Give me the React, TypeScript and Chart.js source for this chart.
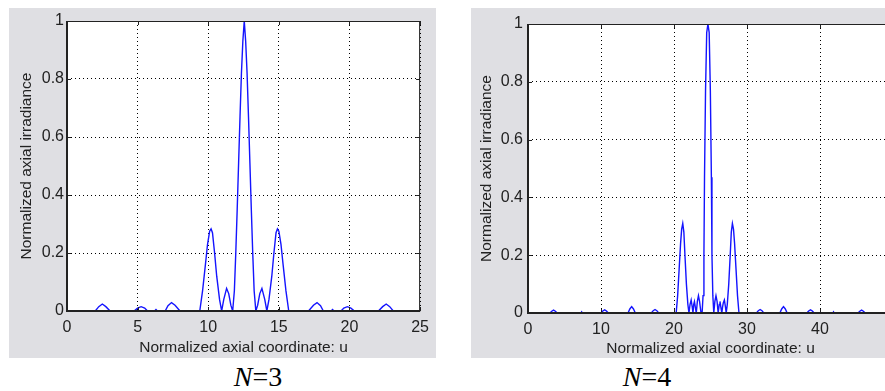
import React, { useEffect, useRef } from 'react';
import { Chart, registerables } from 'chart.js';

Chart.register(...registerables);

// ---------- data ----------
const uN3 = [
  0, 2.0, 2.25, 2.5, 2.75, 3.05, 4.75, 5.0, 5.25, 5.5, 5.7, 6.2, 6.3, 6.4, 6.95, 7.15, 7.4, 7.65, 8.0,
  9.4, 9.6, 9.8, 9.95, 10.1, 10.2, 10.3, 10.45, 10.6, 10.8, 10.95, 11.1, 11.3, 11.45, 11.6, 11.73,
  11.85, 11.95, 12.05, 12.15, 12.25, 12.35, 12.45, 12.55, 12.65, 12.75, 12.85, 12.95, 13.05, 13.15, 13.25, 13.37,
  13.5, 13.65, 13.8, 14.0, 14.15, 14.3, 14.5, 14.65, 14.8, 14.9, 15.0, 15.15, 15.3, 15.5, 15.7,
  17.1, 17.45, 17.7, 17.95, 18.15, 18.7, 18.8, 18.9, 19.4, 19.6, 19.85, 20.1, 20.35, 22.05, 22.35, 22.6, 22.85, 23.1, 25,
];
const irrN3 = [
  0, 0, 0.015, 0.024, 0.015, 0, 0, 0.01, 0.015, 0.01, 0, 0, 0.005, 0, 0, 0.018, 0.029, 0.02, 0,
  0, 0.07, 0.16, 0.23, 0.275, 0.283, 0.27, 0.2, 0.12, 0.04, 0, 0.04, 0.078, 0.06, 0.02, 0,
  0.07, 0.2, 0.35, 0.51, 0.67, 0.82, 0.93, 1.0, 0.93, 0.82, 0.67, 0.51, 0.35, 0.2, 0.07, 0,
  0.02, 0.06, 0.078, 0.04, 0, 0.04, 0.12, 0.2, 0.27, 0.283, 0.275, 0.23, 0.16, 0.07, 0,
  0, 0.02, 0.029, 0.018, 0, 0, 0.005, 0, 0, 0.01, 0.015, 0.01, 0, 0, 0.015, 0.024, 0.015, 0, 0,
];

const uN4 = [
  0, 3.0, 3.25, 3.5, 3.75, 4.0, 7.25, 7.35, 7.45, 10.0, 10.25, 10.5, 10.75, 11.0,
  13.7, 13.95, 14.2, 14.45, 14.7, 16.9, 17.15, 17.4, 17.65, 17.9,
  20.3, 20.5, 20.7, 20.9, 21.05, 21.2, 21.35, 21.5, 21.7, 21.9, 22.05,
  22.2, 22.35, 22.5, 22.6, 22.7, 22.8, 22.95, 23.05, 23.2, 23.35, 23.5, 23.7,
  23.85, 23.98, 24.1, 24.18, 24.32, 24.48, 24.65, 24.82, 24.98, 25.12, 25.2, 25.32, 25.45,
  25.6, 25.75, 25.9, 26.05, 26.2, 26.3, 26.45, 26.55, 26.65, 26.75, 26.9, 27.05, 27.15,
  27.3, 27.5, 27.7, 27.85, 28.0, 28.15, 28.3, 28.5, 28.7, 28.9,
  31.3, 31.55, 31.8, 32.05, 32.3, 34.5, 34.75, 35.0, 35.25, 35.5,
  38.2, 38.45, 38.7, 38.95, 39.2, 41.75, 41.85, 41.95, 45.2, 45.45, 45.7, 45.95, 46.2, 50,
];
const irrN4 = [
  0, 0, 0.006, 0.01, 0.006, 0, 0, 0.004, 0, 0, 0.007, 0.011, 0.007, 0,
  0, 0.014, 0.022, 0.014, 0, 0, 0.008, 0.012, 0.008, 0,
  0, 0.06, 0.15, 0.24, 0.29, 0.31, 0.28, 0.2, 0.1, 0.03, 0,
  0.03, 0.045, 0.02, 0, 0.03, 0.04, 0.015, 0, 0.04, 0.06, 0.04, 0,
  0, 0.06, 0.2, 0.47, 0.77, 0.97, 1.0, 0.97, 0.77, 0.47, 0.2, 0.06, 0,
  0.04, 0.06, 0.04, 0, 0.03, 0.04, 0.015, 0, 0.02, 0.035, 0.045, 0.02, 0,
  0.03, 0.1, 0.2, 0.28, 0.31, 0.29, 0.24, 0.15, 0.06, 0,
  0, 0.008, 0.012, 0.008, 0, 0, 0.014, 0.022, 0.014, 0,
  0, 0.007, 0.011, 0.007, 0, 0, 0.004, 0, 0, 0.006, 0.01, 0.006, 0, 0,
];

const xTicksN3 = [0, 5, 10, 15, 20, 25];
const xTickLabelsN3 = ['0', '5', '10', '15', '20', '25'];
const xTicksN4 = [0, 10, 20, 30, 40, 50];
// the "50" label lies outside the cropped picture
const xTickLabelsN4 = ['0', '10', '20', '30', '40', ''];
const yTicks = [0, 0.2, 0.4, 0.6, 0.8, 1];
const yTickLabels = ['0', '0.2', '0.4', '0.6', '0.8', '1'];
const xTitle = 'Normalized axial coordinate: u';
const yTitle = 'Normalized axial irradiance';
const captionN = ['3', '4'];

const SANS = '"Liberation Sans", Arial, sans-serif';
const PANEL_BG = '#dfdfe3';
const AXIS_COLOR = '#222';

const framePlugin = {
  id: 'matlabFrame',
  beforeDraw(chart: any) {
    const { ctx, chartArea } = chart;
    const { left, top, right, bottom } = chartArea;
    ctx.save();
    ctx.fillStyle = '#ffffff';
    ctx.fillRect(left, top, right - left, bottom - top);
    ctx.restore();
  },
  afterDatasetsDraw(chart: any) {
    const { ctx, chartArea, scales } = chart;
    const { left, top, right, bottom } = chartArea;
    ctx.save();
    ctx.strokeStyle = AXIS_COLOR;
    ctx.lineWidth = 1;
    ctx.beginPath();
    ctx.moveTo(left, top + 0.5);
    ctx.lineTo(right, top + 0.5);
    ctx.moveTo(right - 0.5, top);
    ctx.lineTo(right - 0.5, bottom);
    ctx.stroke();
    const tl = 4;
    ctx.beginPath();
    for (const v of scales.x.ticks.map((t: any) => t.value)) {
      const px = Math.round(scales.x.getPixelForValue(v)) + 0.5;
      ctx.moveTo(px, bottom);
      ctx.lineTo(px, bottom - tl);
      ctx.moveTo(px, top);
      ctx.lineTo(px, top + tl);
    }
    for (const v of scales.y.ticks.map((t: any) => t.value)) {
      const py = Math.round(scales.y.getPixelForValue(v)) + 0.5;
      ctx.moveTo(left, py);
      ctx.lineTo(left + tl, py);
      ctx.moveTo(right, py);
      ctx.lineTo(right - tl, py);
    }
    ctx.stroke();
    ctx.lineWidth = 2;
    ctx.beginPath();
    ctx.moveTo(left, top);
    ctx.lineTo(left, bottom);
    ctx.lineTo(right, bottom);
    ctx.stroke();
    ctx.restore();
  },
};

type PanelProps = {
  u: number[];
  irr: number[];
  xTicks: number[];
  xTickLabels: string[];
  left: number;
  width: number;
  yAxisWidth: number;
  xAxisHeight: number;
  padTop: number;
  padRight: number;
  yTitlePad: number;
  xTitlePad: number;
  yTickPad: number;
};

function Panel(p: PanelProps) {
  const ref = useRef<HTMLCanvasElement | null>(null);
  useEffect(() => {
    if (!ref.current) return;
    const data = p.u.map((x, i) => ({ x, y: p.irr[i] }));
    const chart = new Chart(ref.current, {
      type: 'scatter',
      data: {
        datasets: [
          {
            data,
            showLine: true,
            borderColor: '#1414ff',
            borderWidth: 1.4,
            pointRadius: 0,
            tension: 0,
          },
        ],
      },
      options: {
        animation: false,
        responsive: false,
        maintainAspectRatio: false,
        events: [],
        layout: { padding: { top: p.padTop, right: p.padRight, left: 0, bottom: 0 } },
        plugins: { legend: { display: false }, tooltip: { enabled: false } },
        scales: {
          x: {
            type: 'linear',
            min: p.xTicks[0],
            max: p.xTicks[p.xTicks.length - 1],
            afterBuildTicks: (s: any) => {
              s.ticks = p.xTicks.map((v) => ({ value: v }));
            },
            afterFit: (s: any) => {
              s.height = p.xAxisHeight;
            },
            ticks: {
              autoSkip: false,
              maxRotation: 0,
              padding: 7,
              color: AXIS_COLOR,
              font: { family: SANS, size: 16 },
              callback: (_v: any, i: number) => p.xTickLabels[i],
            },
            grid: { color: '#000', lineWidth: 1, drawTicks: false },
            border: { display: false, dash: [1, 3] },
            title: {
              display: true,
              text: xTitle,
              color: AXIS_COLOR,
              font: { family: SANS, size: 15.5 },
              padding: { top: 0, bottom: p.xTitlePad },
            },
          },
          y: {
            type: 'linear',
            min: 0,
            max: 1,
            afterBuildTicks: (s: any) => {
              s.ticks = yTicks.map((v) => ({ value: v }));
            },
            afterFit: (s: any) => {
              s.width = p.yAxisWidth;
            },
            ticks: {
              autoSkip: false,
              padding: p.yTickPad,
              color: AXIS_COLOR,
              font: { family: SANS, size: 16 },
              callback: (_v: any, i: number) => yTickLabels[i],
            },
            grid: { color: '#000', lineWidth: 1, drawTicks: false },
            border: { display: false, dash: [1, 3] },
            title: {
              display: true,
              text: yTitle,
              color: AXIS_COLOR,
              font: { family: SANS, size: 15.5 },
              padding: { top: p.yTitlePad, bottom: 0 },
            },
          },
        },
      },
      plugins: [framePlugin],
    } as any);
    return () => chart.destroy();
  }, []);
  return (
    <div
      style={{
        position: 'absolute',
        left: p.left,
        top: 8,
        width: p.width,
        height: 350,
        background: PANEL_BG,
      }}
    >
      <canvas ref={ref} width={p.width} height={350} style={{ display: 'block' }} />
    </div>
  );
}

function Caption({ n, center }: { n: string; center: number }) {
  return (
    <div
      style={{
        position: 'absolute',
        left: center - 60,
        width: 120,
        top: 363,
        textAlign: 'center',
        fontFamily: '"Liberation Serif", "Times New Roman", serif',
        fontSize: 28,
        lineHeight: '28px',
        color: '#000',
        whiteSpace: 'nowrap',
      }}
    >
      <span style={{ fontStyle: 'italic' }}>N</span>={n}
    </div>
  );
}

export default function App() {
  return (
    <div
      style={{
        position: 'absolute',
        left: 0,
        top: 0,
        width: 885,
        height: 391,
        overflow: 'hidden',
        background: '#fff',
      }}
    >
      <Panel
        u={uN3}
        irr={irrN3}
        xTicks={xTicksN3}
        xTickLabels={xTickLabelsN3}
        left={9}
        width={427}
        yAxisWidth={58}
        xAxisHeight={47}
        padTop={13}
        padRight={11}
        yTitlePad={8}
        xTitlePad={1}
        yTickPad={3}
      />
      <Panel
        u={uN4}
        irr={irrN4}
        xTicks={xTicksN4}
        xTickLabels={xTickLabelsN4}
        left={471}
        width={433}
        yAxisWidth={57}
        xAxisHeight={45}
        padTop={16}
        padRight={11}
        yTitlePad={6}
        xTitlePad={0}
        yTickPad={5}
      />
      <Caption n={captionN[0]} center={258} />
      <Caption n={captionN[1]} center={647} />
    </div>
  );
}
